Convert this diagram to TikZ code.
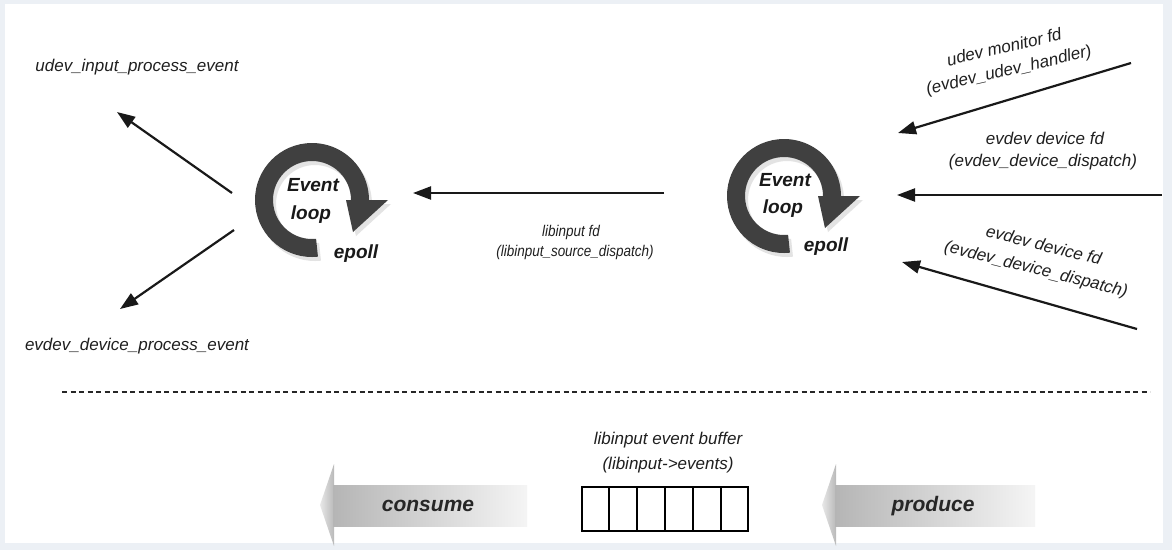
\documentclass[tikz,border=0pt]{standalone}
\usepackage{fontspec}
\setmainfont{Liberation Sans}
\usetikzlibrary{arrows.meta,calc}
\definecolor{framec}{RGB}{236,240,245}
\definecolor{ringc}{RGB}{64,64,64}
\tikzset{
  lbl/.style={font=\fontsize{17}{20}\selectfont\itshape, inner sep=0pt, text=black!88},
  smalllbl/.style={font=\fontsize{15.5}{18}\selectfont\itshape, inner sep=0pt, text=black!88, xscale=0.87, transform shape},
  looplbl/.style={font=\fontsize{19}{22}\selectfont\bfseries\itshape, inner sep=0pt, text=black!90},
  flow/.style={line width=2.2pt, black!90, -{Triangle[length=18pt,width=13pt]}},
  arrowlbl/.style={font=\fontsize{21}{24}\selectfont\bfseries\itshape, inner sep=0pt, text=black!85},
  dashline/.style={line width=2.8pt, black!85, dash pattern=on 5pt off 3.5pt},
  headshade/.style={left color=gray!18, right color=gray!55},
  bodyshade/.style={left color=gray!58, right color=gray!8},
  eloop/.pic={
    \fill[gray!40, opacity=.55, shift={(3pt,-4pt)}]
      (276:57pt) arc[start angle=276, end angle=0, radius=57pt] -- (0:76pt) -- (-38:52pt) -- (0:34pt) -- (0:39pt)
      arc[start angle=0, end angle=276, radius=39pt] -- cycle;
    \fill[ringc]
      (276:57pt) arc[start angle=276, end angle=0, radius=57pt] -- (0:76pt) -- (-38:52pt) -- (0:34pt) -- (0:39pt)
      arc[start angle=0, end angle=276, radius=39pt] -- cycle;
  }
}
\begin{document}
\begin{tikzpicture}[x=1pt, y=-1pt]
\useasboundingbox (0,0) rectangle (1172,550);
\fill[framec] (0,0) rectangle (1172,550);
\fill[white] (5,4) rectangle (1163,543);

% event loops
\pic at (312,200) {eloop};
\pic at (784,196) {eloop};
\node[looplbl] (ev1) at (313,185) {Event};
\node[looplbl] (lp1) at (311,215) {loop};
\node[looplbl] (ep1) at (356,254) {epoll};
\node[looplbl] (ev2) at (785,180) {Event};
\node[looplbl] (lp2) at (783,209) {loop};
\node[looplbl] (ep2) at (826,247) {epoll};

% left outputs
\node[lbl] (uipe) at (137,67) {udev\_input\_process\_event};
\node[lbl] (edpe) at (137,346) {evdev\_device\_process\_event};
\coordinate (l1s) at (232,193);
\coordinate (l1e) at (117,112);
\coordinate (l2s) at (234,230);
\coordinate (l2e) at (120,309);
\draw[flow] (l1s) -- (l1e);
\draw[flow] (l2s) -- (l2e);

% middle arrow
\coordinate (ms) at (664,193);
\coordinate (me) at (413,193);
\draw[flow] (ms) -- (me);
\node[smalllbl] (lfd) at (571,232) {libinput fd};
\node[smalllbl] (lsd) at (575,252) {(libinput\_source\_dispatch)};

% right inputs
\coordinate (r1s) at (1131,63);
\coordinate (r1e) at (898,133);
\coordinate (r2s) at (1162,195);
\coordinate (r2e) at (897,195);
\coordinate (r3s) at (1137,329);
\coordinate (r3e) at (902,262);
\draw[flow] (r1s) -- (r1e);
\draw[flow] (r2s) -- (r2e);
\draw[flow] (r3s) -- (r3e);
\node[lbl, rotate=13] (umf) at (1004,47) {udev monitor fd};
\node[lbl, rotate=13] (euh) at (1009,71) {(evdev\_udev\_handler)};
\node[lbl] (edf1) at (1045,138) {evdev device fd};
\node[lbl] (edd1) at (1043,162) {(evdev\_device\_dispatch)};
\node[lbl, rotate=-14] (edf2) at (1044,245) {evdev device fd};
\node[lbl, rotate=-14] (edd2) at (1036,270) {(evdev\_device\_dispatch)};

% separator
\coordinate (dl) at (62,392);
\coordinate (dr) at (1150,392);
\draw[dashline] (dl) -- (dr);

% buffer
\node[lbl] (bt1) at (668,440) {libinput event buffer};
\node[lbl] (bt2) at (668,465) {(libinput->events)};
\node[draw=black, line width=1.8pt, minimum width=166pt, minimum height=44pt, inner sep=0pt] (buf) at (665,509) {};
\foreach \i in {1,...,5}{
  \draw[line width=1.6pt] ($(buf.north west)!\i/6!(buf.north east)$) -- ($(buf.south west)!\i/6!(buf.south east)$);
}

% consume / produce arrows
\shade[headshade] (320,505) -- (334,464) -- (334,546) -- cycle;
\shade[bodyshade] (333,485) rectangle (527,526);
\node[arrowlbl] (cons) at (428,506) {consume};
\shade[headshade] (822,505) -- (836,464) -- (836,546) -- cycle;
\shade[bodyshade] (835,485) rectangle (1035,526);
\node[arrowlbl] (prod) at (933,506) {produce};
\end{tikzpicture}
\end{document}
